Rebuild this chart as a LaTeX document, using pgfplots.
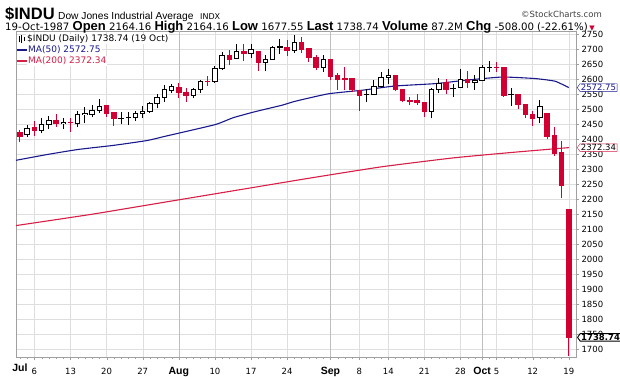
\documentclass[border=0pt]{standalone}
\usepackage{pgfplots}
\pgfplotsset{compat=1.18}
\usepackage{pgfplotstable}
\usepackage{fontspec}
\setmainfont{Liberation Sans}
\newfontfamily\dvs{DejaVu Sans}
\usetikzlibrary{shapes.symbols}

\definecolor{candred}{RGB}{210,0,50}
\definecolor{manavy}{RGB}{25,25,140}
\definecolor{mared}{RGB}{215,30,70}
\definecolor{gridc}{RGB}{222,222,222}
\definecolor{gridm}{RGB}{190,190,190}
\definecolor{framec}{RGB}{160,160,160}

% red (down) candles: index open high low close
\pgfplotstableread{
x o h l c
0 2422 2431 2392 2410
2 2438 2461 2412 2429
5 2464 2483 2442 2453
7 2457 2472 2426 2456
12 2512 2512 2476 2487
13 2489 2489 2444 2469
22 2573 2589 2539 2556
23 2558 2572 2524 2547
26 2594 2610 2577 2592
29 2681 2697 2648 2666
31 2692 2719 2660 2685
33 2692 2692 2628 2655
37 2708 2730 2678 2697
39 2722 2741 2689 2700
40 2702 2702 2657 2673
41 2674 2682 2632 2640
43 2665 2665 2598 2610
44 2612 2623 2566 2601
45 2602 2641 2564 2600
46 2602 2602 2557 2565
47 2563 2563 2495 2546
52 2612 2612 2560 2567
53 2568 2568 2523 2529
54 2531 2542 2514 2526
55 2528 2553 2514 2522
56 2523 2523 2476 2492
59 2590 2603 2551 2566
62 2600 2628 2570 2590
66 2641 2659 2626 2640
67 2640 2640 2542 2548
69 2550 2550 2500 2516
70 2516 2516 2470 2482
71 2483 2495 2445 2471
73 2487 2487 2401 2410
74 2412 2440 2345 2354
75 2356 2395 2205 2246
76 2164.16 2164.16 1677.55 1738.74
}\redc

% black (up) candles
\pgfplotstableread{
x o h l c
1 2417 2448 2409 2437
3 2430 2470 2420 2450
4 2451 2478 2433 2464
6 2455 2470 2434 2456
8 2453 2494 2442 2483
9 2485 2509 2453 2486
10 2483 2514 2473 2497
11 2497 2534 2487 2510
14 2470 2492 2450 2471
15 2473 2492 2448 2474
16 2472 2496 2462 2487
17 2486 2511 2470 2494
18 2492 2526 2487 2520
19 2520 2553 2503 2540
20 2540 2580 2526 2566
21 2564 2585 2555 2575
24 2547 2572 2539 2566
25 2566 2599 2555 2594
27 2594 2644 2588 2638
28 2638 2692 2633 2680
30 2669 2717 2667 2692
32 2685 2719 2670 2700
34 2655 2683 2628 2665
35 2666 2711 2666 2708
36 2708 2736 2686 2709
38 2697 2750 2689 2722
42 2640 2682 2625 2665
48 2550 2569 2525 2551
49 2550 2598 2548 2577
50 2576 2626 2573 2607
51 2607 2634 2584 2614
57 2492 2572 2470 2568
58 2567 2604 2556 2586
60 2569 2586 2542 2570
61 2573 2634 2573 2600
63 2590 2615 2565 2598
64 2598 2648 2595 2640
65 2640 2660 2625 2641
68 2550 2570 2512 2551
72 2472 2530 2454 2510
}\blkc

\pgfplotstableread{
x v
-0.55 2330
3.7 2349
8.0 2366
13.0 2380
17.6 2396
19.9 2409
27.0 2449
29.5 2472
32.5 2492
36.3 2514
38.1 2527
42.7 2552
47.4 2564
51.9 2578
57.5 2586
62.0 2598
66.8 2608
71.3 2603
74.1 2594
76 2572.75
}\maf

\pgfplotstableread{
x v
-0.55 2112
10 2150
20 2190
30 2230
40 2270
50 2308
60 2338
68 2356
76 2372.34
}\mat

\begin{document}
\begin{tikzpicture}[x=1pt,y=1pt]
\useasboundingbox (-16,-19) rectangle (604,357);
\begin{axis}[
  at={(0,0)}, anchor=south west,
  scale only axis, width=560pt, height=326pt,
  xmin=-0.55, xmax=77, ymin=1673.2, ymax=2761.7,
  clip mode=individual,
  axis line style={draw=framec},
  ytick={1700,1750,...,2750},
  ytick pos=right, yticklabel pos=right,
  xtick pos=bottom,
  tick align=outside,
  major tick length=3pt, minor tick length=2pt,
  tick style={draw=framec},
  ymajorgrids, xmajorgrids,
  major grid style={draw=gridc},
  yticklabel style={font=\dvs\fontsize{8.5}{10}\selectfont, xshift=-1pt},
  xtick={2,7,12,17,27,32,37,47,51,56,61,66,71,76},
  xticklabels={6,13,20,27,10,17,24,8,14,21,28,5,12,19},
  xticklabel style={font=\dvs\fontsize{8.5}{10}\selectfont, anchor=base, yshift=-14pt},
  minor xtick={0,...,76},
  extra x ticks={22,43,64},
  extra x tick labels={Aug,Sep,Oct},
  extra x tick style={grid=major, major grid style={draw=gridm}, xticklabel style={font=\bfseries\fontsize{10.5}{12}\selectfont}},
  /pgf/number format/1000 sep={},
  /pgf/number format/assume math mode=true,
]
% moving averages
\addplot[mared, line width=1.1pt, smooth, tension=0.3] table[x=x,y=v] {\mat};
\addplot[manavy, line width=1.1pt, smooth, tension=0.3] table[x=x,y=v] {\maf};

% red candles: wicks, bodies, edges
\addplot[draw=none, mark=none, error bars/.cd, y dir=plus, y explicit, error mark=none,
  error bar style={line width=1pt, draw=candred, line cap=butt}]
  table[x=x, y=l, y error expr=\thisrow{h}-\thisrow{l}] {\redc};
\addplot[draw=none, mark=none, error bars/.cd, y dir=plus, y explicit, error mark=none,
  error bar style={line width=5.5pt, draw=candred, line cap=butt}]
  table[x=x, y=c, y error expr=\thisrow{o}-\thisrow{c}] {\redc};
\addplot[only marks, mark=-, mark size=2.75pt, mark options={line width=1pt, draw=candred}]
  table[x=x, y=o] {\redc};
\addplot[only marks, mark=-, mark size=2.75pt, mark options={line width=1pt, draw=candred}]
  table[x=x, y=c] {\redc};

% black hollow candles
\addplot[draw=none, mark=none, error bars/.cd, y dir=plus, y explicit, error mark=none,
  error bar style={line width=1pt, draw=black, line cap=butt}]
  table[x=x, y=l, y error expr=\thisrow{h}-\thisrow{l}] {\blkc};
\addplot[draw=none, mark=none, error bars/.cd, y dir=plus, y explicit, error mark=none,
  error bar style={line width=5.5pt, draw=black, line cap=butt}]
  table[x=x, y=o, y error expr=\thisrow{c}-\thisrow{o}] {\blkc};
\addplot[draw=none, mark=none, error bars/.cd, y dir=plus, y explicit, error mark=none,
  error bar style={line width=3.5pt, draw=white, line cap=butt}]
  table[x=x, y=o, y error expr=\thisrow{c}-\thisrow{o}] {\blkc};
\addplot[only marks, mark=-, mark size=2.75pt, mark options={line width=1pt, draw=black}]
  table[x=x, y=o] {\blkc};
\addplot[only marks, mark=-, mark size=2.75pt, mark options={line width=1pt, draw=black}]
  table[x=x, y=c] {\blkc};

% month label for the first day (no grid line there)
\node[anchor=base, inner sep=0pt, font=\bfseries\fontsize{10.5}{12}\selectfont, yshift=-14pt] at (axis cs:0,1673.2) {Jul};

% value tags on the right
\node[signal, signal to=west, signal pointer angle=110, draw=manavy, fill=white, text=manavy,
  font=\dvs\fontsize{8.5}{9}\selectfont, inner xsep=1pt, inner ysep=0.6pt, anchor=west, xshift=1pt]
  at (axis cs:77,2572.75) {2572.75};
\node[signal, signal to=west, signal pointer angle=110, draw=mared, fill=white, text=black,
  font=\dvs\fontsize{8.5}{9}\selectfont, inner xsep=1pt, inner ysep=0.6pt, anchor=west, xshift=1pt]
  at (axis cs:77,2372.34) {2372.34};
\node[signal, signal to=west, signal pointer angle=110, draw=black, line width=0.9pt, fill=white, text=black,
  font=\dvs\bfseries\fontsize{8.5}{9}\selectfont, inner xsep=1pt, inner ysep=0.6pt, anchor=west, xshift=1pt]
  at (axis cs:77,1738.74) {1738.74};
\end{axis}

% legend inside the plot
\node[anchor=west, fill=white, inner sep=1pt, font=\dvs\fontsize{9}{10}\selectfont] at (10,318) {\$INDU (Daily) 1738.74 (19 Oct)};
\draw[black, line width=0.8pt] (3,315) -- (3,321) (5.5,314) -- (5.5,322) (8,316) -- (8,320);
\node[anchor=west, fill=white, inner sep=1pt, text=manavy, font=\dvs\fontsize{9}{10}\selectfont] at (11,307) {MA(50) 2572.75};
\draw[manavy, line width=1.5pt] (1.5,307) -- (10.5,307);
\node[anchor=west, fill=white, inner sep=1pt, text=mared, font=\dvs\fontsize{9}{10}\selectfont] at (11,296) {MA(200) 2372.34};
\draw[mared, line width=1.5pt] (1.5,296) -- (10.5,296);

% header
\node[anchor=base west, inner sep=0pt, font=\bfseries\fontsize{16.5}{17}\selectfont] at (-11,338) {\$INDU};
\node[anchor=base west, inner sep=0pt, font=\fontsize{10.2}{12}\selectfont] at (42,338) {Dow Jones Industrial Average};
\node[anchor=base west, inner sep=0pt, font=\dvs\fontsize{8}{10}\selectfont] at (184,338) {INDX};
\node[anchor=base east, inner sep=0pt, text=black!75, font=\dvs\fontsize{8.5}{10}\selectfont] at (586,340) {\textcopyright StockCharts.com};
\node[anchor=base west, inner sep=0pt, font=\dvs\fontsize{10.2}{11}\selectfont] at (-11,327)
 {19-Oct-1987 {\normalfont\bfseries\fontsize{13}{13}\selectfont Open} 2164.16 {\normalfont\bfseries\fontsize{13}{13}\selectfont High} 2164.16 {\normalfont\bfseries\fontsize{13}{13}\selectfont Low} 1677.55 {\normalfont\bfseries\fontsize{13}{13}\selectfont Last} 1738.74 {\normalfont\bfseries\fontsize{13}{13}\selectfont Volume} 87.2M {\normalfont\bfseries\fontsize{13}{13}\selectfont Chg} -508.00 (-22.61\%)\,{\color{candred}\fontsize{7}{8}\selectfont ▼}};
\end{tikzpicture}
\end{document}
